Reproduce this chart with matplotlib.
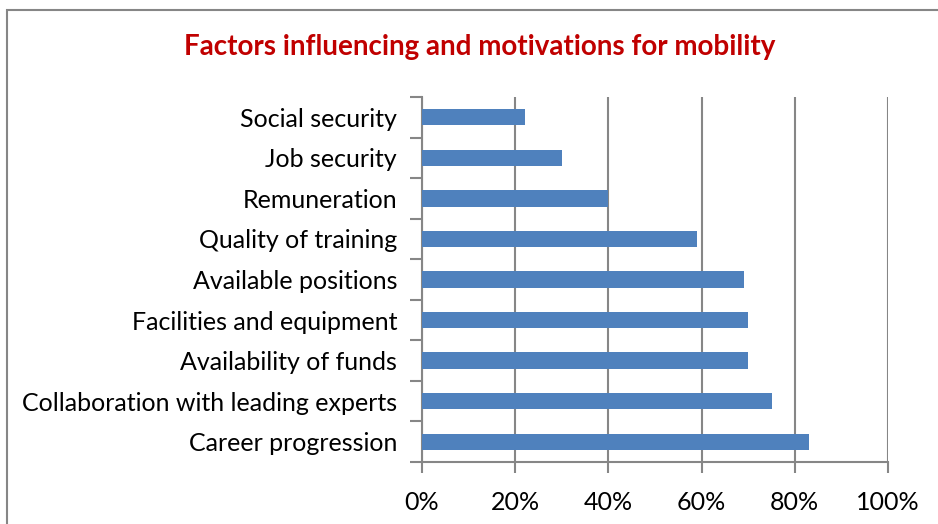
import matplotlib.pyplot as plt
from matplotlib.patches import Rectangle
import numpy as np

plt.rcParams['font.family'] = ['Lato', 'DejaVu Sans']

# data, top to bottom as in the picture
factors = ['Social security', 'Job security', 'Remuneration', 'Quality of training',
           'Available positions', 'Facilities and equipment', 'Availability of funds',
           'Collaboration with leading experts', 'Career progression']
shares = [22, 30, 40, 59, 69, 70, 70, 75, 83]
xticks = [0, 20, 40, 60, 80, 100]
xlabels = ['0%', '20%', '40%', '60%', '80%', '100%']

grey = '#868686'

fig = plt.figure(figsize=(9.38, 5.24), dpi=100)
ax = fig.add_axes([422/938, 1-462/524, (888-422)/938, (462-97)/524])

ypos = np.arange(len(factors))
ax.barh(ypos, shares, height=0.4, color='#4F81BD', zorder=3)
ax.set_ylim(len(factors)-0.5, -0.5)
ax.set_xlim(0, 100)

ax.set_xticks(xticks)
ax.set_xticklabels(xlabels, fontsize=18)
ax.set_yticks(ypos)
ax.set_yticklabels(factors, fontsize=18)
ax.set_yticks(np.arange(len(factors)+1)-0.5, minor=True)
ax.tick_params(axis='y', which='major', length=0, pad=18)
ax.tick_params(axis='y', which='minor', length=9, width=1.5, color=grey)
ax.tick_params(axis='x', length=8, width=1.5, color=grey, pad=13)
ax.xaxis.grid(True, color=grey, lw=1.5, zorder=0)

for s in ['top', 'right']:
    ax.spines[s].set_visible(False)
for s in ['left', 'bottom']:
    ax.spines[s].set_color(grey)
    ax.spines[s].set_linewidth(1.5)

fig.text(480/938, 1-47/524, 'Factors influencing and motivations for mobility',
         ha='center', va='center', fontsize=20, fontweight='bold', color='#C00000')

# outer chart frame
fig.patches.append(Rectangle((7/938, -0.1), 1.1, 1-10/524+0.1, transform=fig.transFigure,
                             fill=False, edgecolor=grey, lw=1.5))

fig.savefig('out.png', dpi=100)
